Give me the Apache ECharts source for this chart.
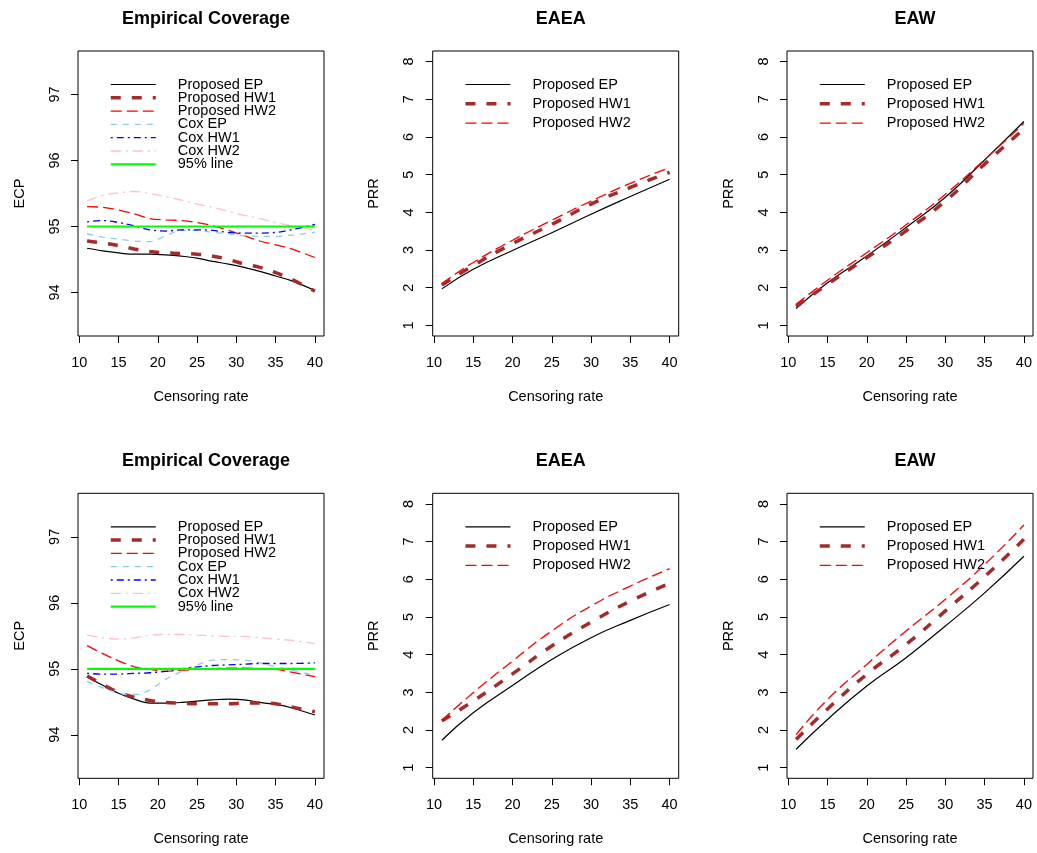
<!DOCTYPE html>
<html>
<head>
<meta charset="utf-8">
<script src="https://cdn.jsdelivr.net/npm/echarts@6/dist/echarts.min.js"></script>
<style>
  html, body { margin: 0; padding: 0; background: #fff; }
  #chart { width: 1037px; height: 853px; }
</style>
</head>
<body>
<div id="chart"></div>
<script>
// censoring rates used for the coverage panels and the PRR panels
const censoringECP = [11, 13, 15, 17, 19, 21, 23, 25, 27, 29, 31, 33, 35, 37, 40];
const censoringPRR = [11, 15, 20, 25, 30, 35, 40];
const xTicks = [10, 15, 20, 25, 30, 35, 40];
const ecpTicks = [94, 95, 96, 97];
const prrTicks = [1, 2, 3, 4, 5, 6, 7, 8];

// top row, empirical coverage
const ecp1EP    = [94.67, 94.63, 94.60, 94.58, 94.58, 94.57, 94.55, 94.52, 94.47, 94.43, 94.38, 94.32, 94.25, 94.18, 94.03];
const ecp1HW1   = [94.78, 94.75, 94.71, 94.66, 94.62, 94.60, 94.59, 94.58, 94.55, 94.50, 94.43, 94.38, 94.30, 94.20, 94.02];
const ecp1HW2   = [95.30, 95.29, 95.25, 95.19, 95.12, 95.10, 95.09, 95.06, 95.01, 94.94, 94.86, 94.78, 94.72, 94.66, 94.53];
const ecp1CoxEP = [94.89, 94.84, 94.81, 94.78, 94.77, 94.86, 94.94, 94.94, 94.91, 94.89, 94.86, 94.85, 94.85, 94.87, 94.91];
const ecp1CoxHW1 = [95.07, 95.09, 95.06, 95.01, 94.95, 94.93, 94.95, 94.95, 94.94, 94.91, 94.90, 94.90, 94.91, 94.95, 95.03];
const ecp1CoxHW2 = [95.39, 95.47, 95.51, 95.53, 95.50, 95.45, 95.40, 95.34, 95.29, 95.23, 95.17, 95.12, 95.06, 95.01, 94.94];

// bottom row, empirical coverage
const ecp2EP    = [94.88, 94.75, 94.63, 94.54, 94.48, 94.48, 94.49, 94.51, 94.53, 94.54, 94.53, 94.49, 94.46, 94.41, 94.30];
const ecp2HW1   = [94.89, 94.76, 94.64, 94.57, 94.52, 94.49, 94.48, 94.47, 94.47, 94.47, 94.48, 94.48, 94.47, 94.42, 94.35];
const ecp2HW2   = [95.35, 95.23, 95.12, 95.03, 94.99, 94.96, 94.98, 94.99, 95.00, 95.01, 95.01, 95.00, 94.99, 94.95, 94.88];
const ecp2CoxEP = [94.81, 94.71, 94.63, 94.61, 94.68, 94.84, 94.96, 95.06, 95.13, 95.14, 95.13, 95.09, 95.03, 94.98, 94.90];
const ecp2CoxHW1 = [94.93, 94.92, 94.92, 94.93, 94.94, 94.96, 95.00, 95.03, 95.05, 95.06, 95.07, 95.08, 95.08, 95.08, 95.09];
const ecp2CoxHW2 = [95.51, 95.47, 95.45, 95.47, 95.51, 95.52, 95.52, 95.51, 95.50, 95.49, 95.49, 95.47, 95.45, 95.43, 95.38];
const line95 = [95, 95, 95, 95, 95, 95, 95, 95, 95, 95, 95, 95, 95, 95, 95];

// PRR panels
const eaea1EP  = [1.97, 2.49, 2.99, 3.46, 3.95, 4.42, 4.88];
const eaea1HW1 = [2.07, 2.59, 3.17, 3.68, 4.22, 4.66, 5.06];
const eaea1HW2 = [2.11, 2.67, 3.26, 3.79, 4.30, 4.77, 5.19];
const eaw1EP   = [1.45, 2.13, 2.84, 3.60, 4.40, 5.39, 6.41];
const eaw1HW1  = [1.51, 2.09, 2.80, 3.51, 4.30, 5.28, 6.21];
const eaw1HW2  = [1.56, 2.20, 2.93, 3.67, 4.48, 5.40, 6.36];
const eaea2EP  = [1.73, 2.46, 3.18, 3.87, 4.45, 4.91, 5.33];
const eaea2HW1 = [2.24, 2.77, 3.49, 4.23, 4.86, 5.42, 5.89];
const eaea2HW2 = [2.26, 2.99, 3.83, 4.63, 5.29, 5.82, 6.28];
const eaw2EP   = [1.49, 2.28, 3.17, 3.92, 4.76, 5.64, 6.61];
const eaw2HW1  = [1.75, 2.56, 3.48, 4.27, 5.16, 6.07, 7.06];
const eaw2HW2  = [1.88, 2.81, 3.74, 4.63, 5.47, 6.39, 7.44];

const styles = {
  "Proposed EP":  { color: "#000000", width: 1.2, type: "solid" },
  "Proposed HW1": { color: "#A52A2A", width: 3.5, type: [10, 11] },
  "Proposed HW2": { color: "#FF0000", width: 1.3, type: [11, 5] },
  "Cox EP":       { color: "#87CEEB", width: 1.3, type: [6, 6] },
  "Cox HW1":      { color: "#0000FF", width: 1.3, type: [2, 4, 7, 4] },
  "Cox HW2":      { color: "#FFC0CB", width: 1.3, type: [10, 5, 2, 5] },
  "95% line":     { color: "#00FF00", width: 2.2, type: "solid" },
};

const font = "Liberation Sans, Arial, sans-serif";
const colLeft = [78, 432.7, 787];
const rowTop = [51, 493.3];
const boxW = 246, boxH = 285;

const panels = [
  { title: "Empirical Coverage", yName: "ECP", ecp: true, x: censoringECP,
    data: [ecp1EP, ecp1HW1, ecp1HW2, ecp1CoxEP, ecp1CoxHW1, ecp1CoxHW2, line95] },
  { title: "EAEA", yName: "PRR", ecp: false, x: censoringPRR, data: [eaea1EP, eaea1HW1, eaea1HW2] },
  { title: "EAW", yName: "PRR", ecp: false, x: censoringPRR, data: [eaw1EP, eaw1HW1, eaw1HW2] },
  { title: "Empirical Coverage", yName: "ECP", ecp: true, x: censoringECP,
    data: [ecp2EP, ecp2HW1, ecp2HW2, ecp2CoxEP, ecp2CoxHW1, ecp2CoxHW2, line95] },
  { title: "EAEA", yName: "PRR", ecp: false, x: censoringPRR, data: [eaea2EP, eaea2HW1, eaea2HW2] },
  { title: "EAW", yName: "PRR", ecp: false, x: censoringPRR, data: [eaw2EP, eaw2HW1, eaw2HW2] },
];
const names = Object.keys(styles);

const chart = echarts.init(document.getElementById("chart"), null, { renderer: "canvas" });

const grid = [], xAxis = [], yAxis = [], series = [], title = [], legend = [];

panels.forEach((p, i) => {
  const left = colLeft[i % 3];
  const top = rowTop[Math.floor(i / 3)];
  grid.push({ left: left, top: top, width: boxW, height: boxH, show: true,
    borderColor: "#000", borderWidth: 1, containLabel: false });

  title.push({
    text: p.title, left: left + boxW / 2, top: top - 46, textAlign: "center",
    textStyle: { fontFamily: font, fontWeight: "bold", fontSize: 18, color: "#000" },
  });

  xAxis.push({
    type: "value", gridIndex: i, min: 9.84, max: 41.16,
    name: "Censoring rate", nameLocation: "middle", nameGap: 53,
    nameTextStyle: { fontFamily: font, fontSize: 14.5, color: "#000" },
    axisLine: { show: false },
    axisTick: { show: true, length: 7, customValues: xTicks, lineStyle: { color: "#000" } },
    axisLabel: { customValues: xTicks, margin: 19, fontFamily: font, fontSize: 14.5, color: "#000" },
    splitLine: { show: false },
  });

  const ticks = p.ecp ? ecpTicks : prrTicks;
  yAxis.push({
    type: "value", gridIndex: i,
    min: p.ecp ? 93.34 : 0.72, max: p.ecp ? 97.66 : 8.28,
    name: p.yName, nameLocation: "middle", nameGap: 51,
    nameTextStyle: { fontFamily: font, fontSize: 14.5, color: "#000" },
    axisLine: { show: false },
    axisTick: { show: true, length: 7, customValues: ticks, lineStyle: { color: "#000" } },
    axisLabel: { customValues: ticks, rotate: 90, margin: 16, fontFamily: font, fontSize: 14.5, color: "#000" },
    splitLine: { show: false },
  });

  const used = names.slice(0, p.data.length);
  used.forEach((name, k) => {
    const s = styles[name];
    series.push({
      name: name, type: "line", xAxisIndex: i, yAxisIndex: i,
      data: p.x.map((x, j) => [x, p.data[k][j]]),
      symbol: "none", smooth: p.ecp ? 0.35 : 0.5, silent: true,
      color: s.color,
      lineStyle: { color: s.color, width: s.width, type: s.type },
    });
  });

  // R style legend: line sample only, no box
  legend.push({
    orient: "vertical",
    left: left + 26,
    top: top + 21,
    itemWidth: 45, itemHeight: 10,
    itemGap: p.ecp ? -1.7 : 4.3,
    selectedMode: false,
    itemStyle: { opacity: 0, borderWidth: 0 },
    data: used.map(name => ({
      name: name,
      lineStyle: { color: styles[name].color, width: styles[name].width, type: styles[name].type },
    })),
    textStyle: { fontFamily: font, fontSize: 14.5, color: "#000", lineHeight: 13.3, padding: [0, 0, 0, 17] },
  });
});

chart.setOption({
  backgroundColor: "#fff",
  animation: false,
  title, legend, grid, xAxis, yAxis, series,
});
</script>
</body>
</html>
